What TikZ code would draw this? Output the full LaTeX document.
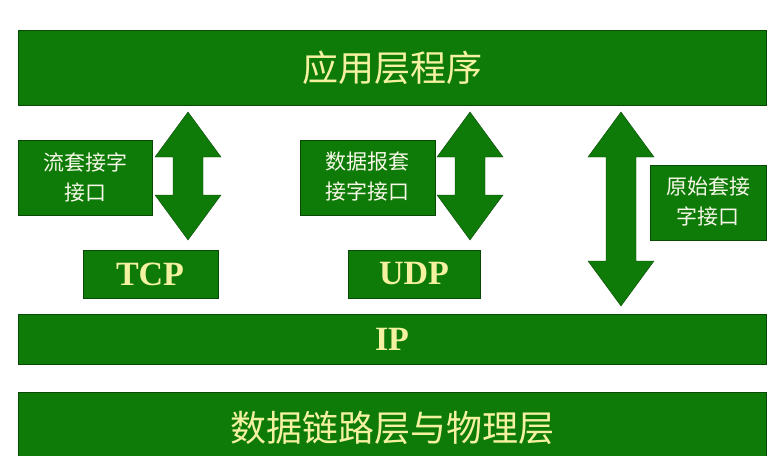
\documentclass[tikz,border=0pt]{standalone}
\usepackage{fontspec}
\setmainfont{Liberation Serif}
\newfontfamily\cjk{Noto Sans CJK SC}
\begin{document}
\begin{tikzpicture}[x=1pt,y=-1pt,
  gbox/.style={fill=grn,draw=grn!60!black,line width=0.8pt},
]
\definecolor{grn}{HTML}{0E7A08}
\definecolor{yel}{HTML}{F4F2A0}
\definecolor{lbl}{HTML}{F8F8E8}
\useasboundingbox[fill=white] (0,0) rectangle (784,455);
% bars
\fill[gbox] (18,30) rectangle (766,105);
\node[text=yel,font=\cjk\fontsize{36}{38}\selectfont] (app) at (392,68) {应用层程序};
\fill[gbox] (18,314) rectangle (766,364);
\node[text=yel,font=\bfseries\fontsize{34}{36}\selectfont] (ip) at (392,339) {IP};
\fill[gbox] (18,392) rectangle (766,470);
\node[text=yel,font=\cjk\fontsize{36}{38}\selectfont] (dl) at (392,428) {数据链路层与物理层};
% label boxes
\fill[gbox] (18,140) rectangle (152,215);
\node[text=lbl,align=center,font=\cjk\fontsize{21}{30}\selectfont] (l1) at (85,177) {流套接字\\接口};
\fill[gbox] (300,140) rectangle (435,215);
\node[text=lbl,align=center,font=\cjk\fontsize{21}{30}\selectfont] (l2) at (367,177) {数据报套\\接字接口};
\fill[gbox] (650,165) rectangle (766,240);
\node[text=lbl,align=center,font=\cjk\fontsize{21}{30}\selectfont] (l3) at (708,202) {原始套接\\字接口};
% TCP UDP
\fill[gbox] (83,250) rectangle (218,298);
\node[text=yel,font=\bfseries\fontsize{34}{36}\selectfont] (tcp) at (150,274) {TCP};
\fill[gbox] (348,250) rectangle (480,298);
\node[text=yel,font=\bfseries\fontsize{34}{36}\selectfont] (udp) at (414,274) {UDP};
% double arrows
\foreach \cx/\ya/\yb in {188/112/240, 470/112/240, 621/112/306}{
  \fill[grn,draw=grn!60!black] (\cx,\ya) -- (\cx+33,\ya+45) -- (\cx+15,\ya+45) -- (\cx+15,\yb-45)
    -- (\cx+33,\yb-45) -- (\cx,\yb) -- (\cx-33,\yb-45) -- (\cx-15,\yb-45) -- (\cx-15,\ya+45)
    -- (\cx-33,\ya+45) -- cycle;
}
\end{tikzpicture}
\end{document}
